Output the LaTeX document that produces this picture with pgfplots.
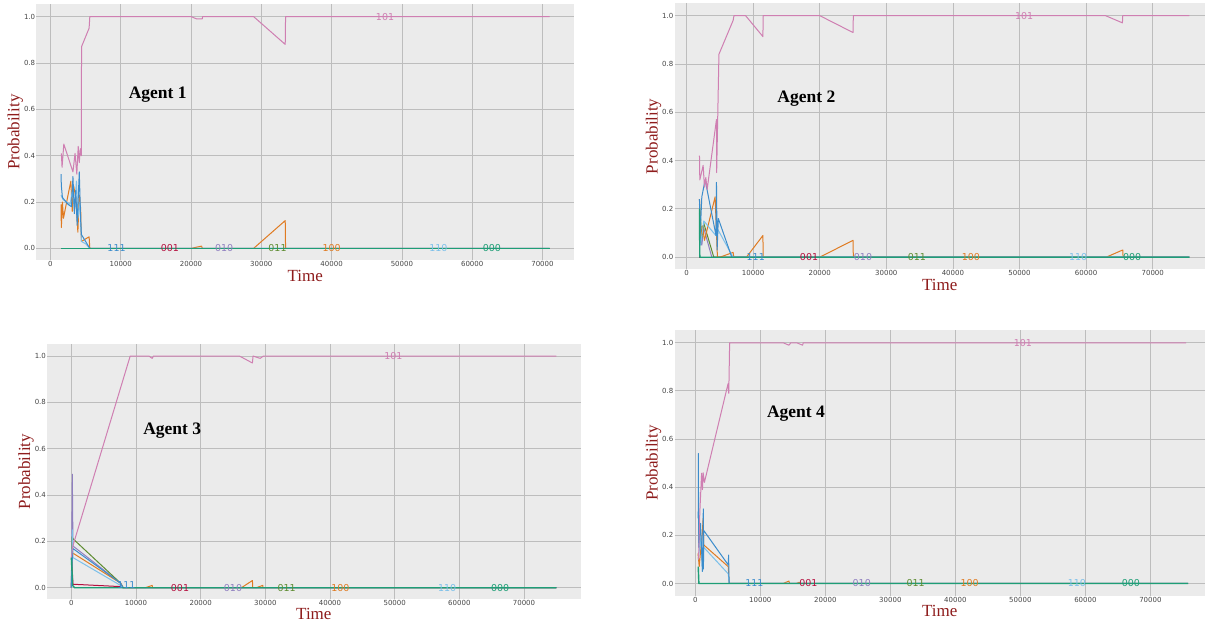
\documentclass[border=0pt]{standalone}
\usepackage{pgfplots}
\pgfplotsset{compat=1.18}
\usepackage{fontspec}
\setmainfont{Liberation Serif}
\setsansfont{DejaVu Sans}
\definecolor{bgc}{HTML}{EBEBEB}
\definecolor{gridc}{HTML}{BDBDBD}
\definecolor{tickc}{HTML}{454545}
\definecolor{labc}{HTML}{8E1C1C}
\definecolor{c101}{HTML}{CF7FB2}
\definecolor{c111}{HTML}{3B8CCC}
\definecolor{c001}{HTML}{B5103F}
\definecolor{c010}{HTML}{8F7FC0}
\definecolor{c011}{HTML}{5E8C31}
\definecolor{c100}{HTML}{E07B22}
\definecolor{c110}{HTML}{7CC0EA}
\definecolor{c000}{HTML}{1E9E76}
\tikzset{lab/.style={font=\sffamily\fontsize{9.5}{10}\selectfont, inner sep=0pt}}
\pgfplotsset{
  agent/.style={
    scale only axis, anchor=south west,
    axis background/.style={fill=bgc},
    axis line style={draw=none},
    major tick length=0pt,
    grid=major,
    major grid style={draw=gridc, line width=0.8pt},
    xtick={0,10000,20000,30000,40000,50000,60000,70000},
    ytick={0,0.2,0.4,0.6,0.8,1.0},
    ticklabel style={font=\sffamily\fontsize{7}{8}\selectfont, text=tickc, inner sep=1pt},
    /pgf/number format/assume math mode=true,
    scaled x ticks=false,
    x tick label style={/pgf/number format/.cd, 1000 sep={}, /tikz/.cd},
    y tick label style={/pgf/number format/.cd, fixed, fixed zerofill, precision=1, /tikz/.cd},
    xlabel={Time}, ylabel={Probability},
    label style={font=\fontsize{17}{19}\selectfont, text=labc},
    xlabel style={at={([yshift=-16pt]axis description cs:0.5,0)}, anchor=center},
    ylabel style={at={([xshift=-21pt]axis description cs:0,0.5)}, anchor=center},
    every axis plot/.append style={line width=1pt, line join=round},
  },
}
\begin{document}
\begin{tikzpicture}
\useasboundingbox (0,0) rectangle (1205pt,621pt);
% ---------------- Agent 1 ----------------
\begin{axis}[agent, at={(36.4pt,361pt)}, width=537.7pt, height=255.7pt,
  xmin=-2000, xmax=74500, ymin=-0.05, ymax=1.053]
\addplot[c001] coordinates {(1500,0)(71000,0)};
\addplot[c010] coordinates {(1500,0)(71000,0)};
\addplot[c011] coordinates {(1500,0)(71000,0)};
\addplot[c100] coordinates {(1500,0.19)(1550,0.09)(1700,0.20)(1850,0.13)(2500,0.23)(2900,0.29)(3100,0.16)(3300,0.27)(3600,0.22)(3900,0.07)(4100,0.23)(4300,0.17)(4400,0.03)(5500,0.05)(5600,0)(20000,0)(21500,0.01)(21600,0)(28900,0)(33400,0.12)(33450,0)(71000,0)};
\addplot[c110] coordinates {(1500,0.23)(1800,0.21)(2800,0.19)(3100,0.25)(3400,0.17)(3700,0.29)(3900,0.13)(4200,0.20)(4400,0.03)(5000,0.02)(5600,0)(71000,0)};
\addplot[c111] coordinates {(1500,0.32)(1550,0.27)(1700,0.22)(2500,0.19)(3000,0.18)(3200,0.31)(3400,0.15)(3600,0.25)(3800,0.10)(4100,0.33)(4300,0.12)(4400,0.06)(5600,0)(71000,0)};
\addplot[c101] coordinates {(1550,0.41)(1650,0.35)(1900,0.45)(3200,0.33)(3500,0.41)(3750,0.32)(3950,0.44)(4100,0.37)(4250,0.43)(4400,0.40)(4420,0.87)(5500,0.95)(5600,1.0)(20000,1.0)(20800,0.99)(21600,0.99)(21650,1.0)(28900,1.0)(33400,0.88)(33450,1.0)(71000,1.0)};
\addplot[c000, line width=1.4pt] coordinates {(1500,0)(71000,0)};
\node[lab, text=c111] at (axis cs:9400,0) {111};
\node[lab, text=c001] at (axis cs:17000,0) {001};
\node[lab, text=c010] at (axis cs:24700,0) {010};
\node[lab, text=c011] at (axis cs:32300,0) {011};
\node[lab, text=c100] at (axis cs:40000,0) {100};
\node[lab, text=c110] at (axis cs:55200,0) {110};
\node[lab, text=c000] at (axis cs:62800,0) {000};
\node[lab, text=c101] at (axis cs:47600,1) {101};
\end{axis}
% ---------------- Agent 2 ----------------
\begin{axis}[agent, at={(674.5pt,351.7pt)}, width=530.5pt, height=266pt,
  xmin=-1800, xmax=77850, ymin=-0.05, ymax=1.051]
\addplot[c001] coordinates {(1950,0)(75500,0)};
\addplot[c010] coordinates {(1950,0.10)(2300,0.05)(2600,0.12)(3800,0)(75500,0)};
\addplot[c011] coordinates {(1950,0.22)(2300,0.08)(2600,0.14)(4100,0)(75500,0)};
\addplot[c100] coordinates {(1950,0.24)(2100,0.06)(2400,0.13)(2700,0.07)(4300,0.25)(4600,0.03)(4650,0)(5000,0)(7000,0.02)(7100,0)(9000,0)(11480,0.09)(11500,0)(20000,0)(25000,0.07)(25050,0)(63000,0)(65500,0.03)(65550,0)(75500,0)};
\addplot[c110] coordinates {(1950,0.18)(2100,0.05)(2600,0.15)(4400,0.09)(4600,0.12)(7000,0)(75500,0)};
\addplot[c111] coordinates {(1950,0.24)(2000,0.06)(2300,0.25)(2800,0.32)(4430,0.09)(4500,0.31)(4600,0.03)(4780,0.16)(6800,0)(75500,0)};
\addplot[c101] coordinates {(1950,0.42)(2000,0.32)(2250,0.35)(2500,0.38)(2700,0.29)(2900,0.33)(3100,0.28)(4500,0.57)(4530,0.35)(4870,0.84)(7000,0.98)(7130,1.0)(8870,1.0)(11480,0.913)(11500,1.0)(20000,1.0)(25000,0.93)(25050,1.0)(62900,1.0)(65450,0.97)(65500,1.0)(75500,1.0)};
\addplot[c000, line width=1.4pt] coordinates {(1950,0.2)(2000,0)(75500,0)};
\node[lab, text=c111] at (axis cs:10400,0) {111};
\node[lab, text=c001] at (axis cs:18400,0) {001};
\node[lab, text=c010] at (axis cs:26500,0) {010};
\node[lab, text=c011] at (axis cs:34600,0) {011};
\node[lab, text=c100] at (axis cs:42700,0) {100};
\node[lab, text=c110] at (axis cs:58800,0) {110};
\node[lab, text=c000] at (axis cs:66900,0) {000};
\node[lab, text=c101] at (axis cs:50700,1) {101};
\end{axis}
% ---------------- Agent 3 ----------------
\begin{axis}[agent, at={(47.1pt,21.7pt)}, width=533.5pt, height=255.3pt,
  xmin=-3750, xmax=78750, ymin=-0.05, ymax=1.052,
  xlabel style={at={([yshift=-14.5pt]axis description cs:0.5,0)}, anchor=center}]
\addplot[c001] coordinates {(0,0)(100,0.10)(250,0.015)(7500,0.005)(8000,0)(75000,0)};
\addplot[c010] coordinates {(0,0)(150,0.49)(250,0.18)(7600,0.02)(8000,0)(75000,0)};
\addplot[c011] coordinates {(0,0)(100,0.22)(300,0.21)(7600,0.02)(8000,0)(75000,0)};
\addplot[c100] coordinates {(0,0)(200,0.15)(7600,0.02)(8000,0)(11450,0)(12500,0.01)(12550,0)(26300,0)(28000,0.031)(28050,0)(28600,0)(29600,0.01)(29650,0)(75000,0)};
\addplot[c110] coordinates {(0,0)(150,0.25)(250,0.13)(7600,0.01)(8000,0)(75000,0)};
\addplot[c111] coordinates {(0,0)(200,0.17)(7600,0.02)(8000,0)(75000,0)};
\addplot[c101] coordinates {(0,0.13)(270,0.184)(9100,1.0)(12000,1.0)(12500,0.99)(12700,1.0)(26000,1.0)(28000,0.97)(28100,1.0)(29200,0.99)(29700,1.0)(75000,1.0)};
\addplot[c000, line width=1.4pt] coordinates {(0,0.13)(200,0.01)(500,0)(75000,0)};
\node[lab, text=c111] at (axis cs:8500,0.01) {111};
\node[lab, text=c001] at (axis cs:16800,0) {001};
\node[lab, text=c010] at (axis cs:25000,0) {010};
\node[lab, text=c011] at (axis cs:33300,0) {011};
\node[lab, text=c100] at (axis cs:41600,0) {100};
\node[lab, text=c110] at (axis cs:58100,0) {110};
\node[lab, text=c000] at (axis cs:66300,0) {000};
\node[lab, text=c101] at (axis cs:49800,1) {101};
\end{axis}
% ---------------- Agent 4 ----------------
\begin{axis}[agent, at={(674.5pt,25pt)}, width=530.5pt, height=266pt,
  xmin=-3200, xmax=78400, ymin=-0.052, ymax=1.053,
  xlabel style={at={([yshift=-15pt]axis description cs:0.5,0)}, anchor=center}]
\addplot[c001] coordinates {(500,0)(75800,0)};
\addplot[c010] coordinates {(500,0)(75800,0)};
\addplot[c011] coordinates {(500,0)(75800,0)};
\addplot[c100] coordinates {(420,0.125)(600,0.07)(1100,0.22)(1200,0.27)(1300,0.16)(5070,0.07)(5200,0)(13500,0)(14400,0.01)(14500,0)(15500,0)(16000,0.005)(16100,0)(75800,0)};
\addplot[c110] coordinates {(450,0.10)(850,0.195)(1100,0.05)(1300,0.15)(5070,0.04)(5200,0)(75800,0)};
\addplot[c111] coordinates {(450,0.27)(470,0.54)(520,0.15)(800,0.25)(1100,0.05)(1230,0.31)(1250,0.06)(1300,0.22)(5070,0.077)(5120,0.118)(5200,0)(75800,0)};
\addplot[c101] coordinates {(500,0.10)(700,0.30)(970,0.458)(1100,0.39)(1200,0.46)(1400,0.42)(5040,0.83)(5150,0.79)(5280,1.0)(13500,1.0)(14400,0.99)(14700,1.0)(15600,1.0)(16500,0.99)(16600,1.0)(75500,1.0)};
\addplot[c000, line width=1.4pt] coordinates {(450,0.07)(550,0)(75800,0)};
\node[lab, text=c111] at (axis cs:9080,0) {111};
\node[lab, text=c001] at (axis cs:17400,0) {001};
\node[lab, text=c010] at (axis cs:25600,0) {010};
\node[lab, text=c011] at (axis cs:33900,0) {011};
\node[lab, text=c100] at (axis cs:42200,0) {100};
\node[lab, text=c110] at (axis cs:58700,0) {110};
\node[lab, text=c000] at (axis cs:67000,0) {000};
\node[lab, text=c101] at (axis cs:50400,1) {101};
\end{axis}
% ---------------- Agent titles ----------------
\node[font=\bfseries\fontsize{17.5}{19}\selectfont] at (157.7pt,526.7pt) {Agent 1};
\node[font=\bfseries\fontsize{17.5}{19}\selectfont] at (806.4pt,522pt) {Agent 2};
\node[font=\bfseries\fontsize{17.5}{19}\selectfont] at (172.2pt,190.3pt) {Agent 3};
\node[font=\bfseries\fontsize{17.5}{19}\selectfont] at (796pt,207.7pt) {Agent 4};
\end{tikzpicture}
\end{document}
